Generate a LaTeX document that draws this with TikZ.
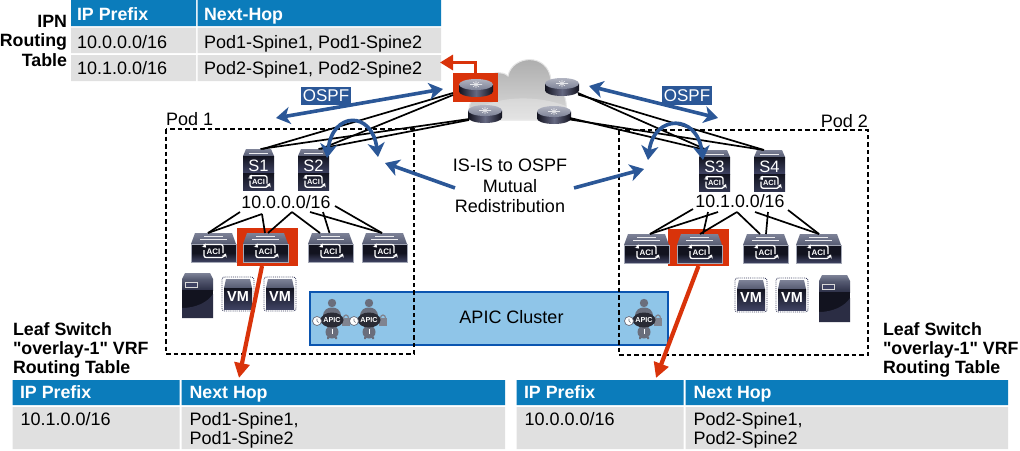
\documentclass[tikz,border=0pt]{standalone}
\usepackage{fontspec}
\setmainfont[Ligatures=TeXOff]{Liberation Sans}
\usetikzlibrary{arrows.meta,calc}
\definecolor{hdr}{HTML}{0B7CBB}
\definecolor{rowc}{HTML}{E0E0E0}
\definecolor{ospf}{HTML}{2B5797}
\definecolor{redc}{HTML}{D9330A}
\definecolor{navy}{HTML}{12131F}
\definecolor{navyb}{HTML}{3F4363}
\definecolor{topa}{HTML}{7D8297}
\definecolor{topb}{HTML}{565B72}
\definecolor{apicg}{HTML}{6A6E7C}
\definecolor{bandf}{HTML}{8FC5E8}
\definecolor{bandd}{HTML}{0B55B0}
\tikzset{
  tx/.style={inner sep=0pt,outer sep=0pt,font=\fontsize{18}{19}\selectfont,text=black},
  txb/.style={tx,font=\fontsize{17.8}{19}\selectfont\bfseries},
  hdt/.style={txb,text=white},
  conn/.style={line width=1.7pt,black},
  pod/.style={line width=1.8pt,dash pattern=on 4.5pt off 3pt,black},
  blue2/.style={line width=3.6pt,ospf,{Stealth[length=14pt,width=17pt,inset=4pt]}-{Stealth[length=14pt,width=17pt,inset=4pt]}},
  blue1/.style={line width=3.6pt,ospf,-{Stealth[length=14pt,width=17pt,inset=4pt]}},
  reda/.style={line width=4.2pt,redc,-{Triangle[length=15pt,width=15pt]}},
  hit/.style={inner sep=0pt,outer sep=0pt,draw=none,fill=none},
  redbox/.style={inner sep=0pt,outer sep=0pt,fill=redc},
}
% ACI mark, centred on the current origin: half width, half height, font size
\newcommand{\acimark}[3]{%
  \draw[white,line width=1.3pt,rounded corners=2pt,-{Stealth[length=3.5pt,width=5pt]}] (#1,2) -- (#1,-#2) -- (-{#1-1},-#2) -- (-{#1+2},{3-#2});
  \draw[white,line width=1.3pt,rounded corners=2pt,-{Stealth[length=3.5pt,width=5pt]}] (-#1,-1) -- (-#1,#2) -- ({#1+1},#2) -- ({#1+3},{#2-4});
  \node[hit,text=white,font=\fontsize{#3}{#3}\selectfont\bfseries] at (0,0.3) {ACI};
}
\newcommand{\leafsw}[3]{%
  \begin{scope}[shift={(#2,#3)}]
    \shade[top color=topa,bottom color=topb] (4,0) -- (41,0) -- (45,11) -- (0,11) -- cycle;
    \shade[top color=navy,bottom color=navyb,middle color=navy] (0,11) rectangle (45,29);
    \draw[white!85!topa,line width=.7pt] (9,6.5) -- (36,6.5) (13,3) -- (32,3);
    \draw[topa!70!white,line width=.5pt] (0,11) rectangle (45,29);
    \node[hit,minimum width=45pt,minimum height=29pt] (#1) at (22.5,14.5) {};
    \begin{scope}[shift={(22.5,18)}]\acimark{9.5}{6.5}{8}\end{scope}
  \end{scope}}
\newcommand{\spinesw}[4]{%
  \begin{scope}[shift={(#2,#3)}]
    \shade[top color=topa,bottom color=topb] (3,0) -- (28,0) -- (31,7) -- (0,7) -- cycle;
    \shade[top color=navy,bottom color=navyb] (0,7) rectangle (31,24);
    \shade[top color=navy,bottom color=navyb!70!navy] (0,24) rectangle (31,41);
    \draw[white!85!topa,line width=.5pt] (6,4) -- (25,4);
    \node[hit,minimum width=31pt,minimum height=41pt] (#1) at (15.5,20.5) {};
    \node[hit,text=white,font=\fontsize{16.5}{17}\selectfont] at (15.5,16.5) {#4};
    \begin{scope}[shift={(15.5,32.5)}]\acimark{8.5}{5.7}{7.5}\end{scope}
  \end{scope}}
\newcommand{\routerr}[3]{%
  \begin{scope}[shift={(#2,#3)}]
    \shade[left color=navy,right color=navy,middle color=navyb!80!white] (-17,-3.5) -- (-17,3.5) arc[x radius=17,y radius=5.5,start angle=180,end angle=0] -- (17,-3.5) -- cycle;
    \shade[top color=topa!60!white,bottom color=topa] (0,-3.5) ellipse[x radius=17,y radius=5.5];
    \draw[white!80!topa,line width=.6pt] (-6,-3.5) -- (6,-3.5) (0,-7) -- (0,0) (-3,-6) -- (3,-1) (3,-6) -- (-3,-1);
    \node[hit,minimum width=34pt,minimum height=18pt] (#1) at (0,0) {};
  \end{scope}}
\newcommand{\vmbox}[3]{%
  \begin{scope}[shift={(#2,#3)}]
    \draw[navyb,line width=.9pt,densely dotted,rounded corners=2.5pt] (0,0) rectangle (32,34);
    \shade[top color=topa,bottom color=topb] (4,2) -- (28,2) -- (30,11) -- (2,11) -- cycle;
    \shade[top color=navy,bottom color=navyb] (2,11) rectangle (30,32.5);
    \node[hit,text=white,font=\fontsize{14.5}{15}\selectfont\bfseries] (#1) at (16,20) {VM};
  \end{scope}}
\newcommand{\serverb}[4]{%
  \begin{scope}[shift={(#2,#3)}]
    \shade[top color=topa,bottom color=topb] (3,0) -- (28,0) -- (31,6) -- (0,6) -- cycle;
    \shade[top color=topb,bottom color=navyb!60!navy] (0,6) rectangle (31,17);
    \fill[navy] (0,17) rectangle (31,{#4});
    \fill[navyb!55!navy] (0,{#4-10}) .. controls (14,{#4-10}) and (26,{#4-16}) .. (31,{#4-24}) -- (31,{#4}) -- (0,{#4}) -- cycle;
    \draw[white!85!black,line width=.8pt,fill=navyb] (3,9.5) rectangle (15,14);
    \node[hit,minimum width=31pt,minimum height=#4 pt] (#1) at (15.5,{#4/2}) {};
  \end{scope}}
\newcommand{\apicnode}[3]{%
  \begin{scope}[shift={(#2,#3)}]
    \fill[apicg] (0,-17) circle[radius=4.2];
    \fill[apicg] (-9,-3) .. controls (-9,-11) and (-4,-12.5) .. (0,-12.5) .. controls (4,-12.5) and (9,-11) .. (9,-3) -- cycle;
    \fill[apicg] (0,12) circle[radius=6.5];
    \fill[apicg] (-5,17) rectangle (-3,19) (3,17) rectangle (5,19) (-2,4) rectangle (2,8);
    \fill[white] (-.5,9) rectangle (.5,14);
    \fill[apicg!85!white] (10,-2) rectangle (18,6);
    \draw[apicg!85!white,line width=1.2pt] (11.5,-2) arc[x radius=2.5,y radius=3,start angle=180,end angle=360];
    \fill[navy!90!white] (0,0) ellipse[x radius=11.5,y radius=7.5];
    \fill[white,draw=apicg,line width=.7pt] (-15,1) circle[radius=4.5];
    \draw[apicg,line width=.7pt] (-15,-1.5) -- (-15,1) -- (-13.5,2.5);
    \node[hit,text=white,font=\fontsize{7.2}{8}\selectfont\bfseries] (#1) at (0,0) {APIC};
  \end{scope}}
\begin{document}
\begin{tikzpicture}[x=1pt,y=-1pt]
\useasboundingbox (0,0) rectangle (1020,450);
\clip (0,0) rectangle (1020,450);
\fill[white] (0,0) rectangle (1020,450);

% ---------- IPN table
\fill[hdr] (71,0) rectangle (196,26) (197.5,0) rectangle (441,26);
\fill[rowc] (71,27.5) rectangle (196,53) (197.5,27.5) rectangle (441,53)
            (71,55) rectangle (196,81) (197.5,55) rectangle (441,81);
\node[hdt,anchor=base west] (ta) at (77,20.5) {IP Prefix};
\node[hdt,anchor=base west] (tb) at (204,20.5) {Next-Hop};
\node[tx,anchor=base west] (tc) at (77,48) {10.0.0.0/16};
\node[tx,anchor=base west] (td) at (204,48) {Pod1-Spine1, Pod1-Spine2};
\node[tx,anchor=base west] (te) at (77,74) {10.1.0.0/16};
\node[tx,anchor=base west] (tf) at (204,74) {Pod2-Spine1, Pod2-Spine2};
\node[txb,anchor=base east] (ipn1) at (67,27) {IPN};
\node[txb,anchor=base east] (ipn2) at (67,46.5) {Routing};
\node[txb,anchor=base east] (ipn3) at (67,66) {Table};

% ---------- APIC band (under the pod frames)
\filldraw[fill=bandf,draw=bandd,line width=2.2pt] (310,292) rectangle (668,345);
\node[tx,anchor=base] (cluster) at (511.5,323) {APIC Cluster};
\apicnode{a1}{332}{320}
\apicnode{a2}{369}{320}
\apicnode{a3}{644}{320}

% ---------- pods
\draw[pod] (166,129) rectangle (414,354);
\draw[pod] (619,130) rectangle (868,355);
\node[tx,anchor=base west] (pod1) at (166,125) {Pod 1};
\node[tx,anchor=base east] (pod2) at (868,127) {Pod 2};

% ---------- cloud
\shade[top color=black!34,bottom color=black!14,draw=black!10,line width=1pt]
  (478,120) .. controls (466,120) and (466,100) .. (478,96)
  .. controls (474,80) and (497,66) .. (508,76)
  .. controls (512,55) and (548,52) .. (551,80)
  .. controls (563,84) and (572,108) .. (562,120) -- cycle;
\fill[white,opacity=.25] (470,112) .. controls (500,94) and (540,96) .. (566,106) .. controls (568,112) and (566,118) .. (562,120) -- (478,120) .. controls (474,120) and (471,116) .. (470,112) -- cycle;

% ---------- spines
\spinesw{s1}{243}{149}{S1}
\spinesw{s2}{298}{149}{S2}
\spinesw{s3}{699}{150}{S3}
\spinesw{s4}{754}{150}{S4}

% ---------- routers' anchors and spine uplinks
\node[redbox,minimum width=45pt,minimum height=29pt] (rb1) at (475.5,87.5) {};
\routerr{r1}{476}{88}
\routerr{r2}{485}{114}
\routerr{r3}{562}{87}
\routerr{r4}{554}{115}
\draw[conn] ([shift={(-6,5)}]r1.west) -- ([xshift=4pt]s1.north);
\draw[conn] ([shift={(-6,7)}]r1.west) -- ([xshift=7pt]s2.north);
\draw[conn] ([shift={(1,5)}]r2.west) -- ([xshift=2pt]s1.north);
\draw[conn] ([shift={(1,6)}]r2.west) -- ([xshift=5pt]s2.north);
\draw[conn] ([shift={(-1,6)}]r3.east) -- ([xshift=-7.5pt]s3.north);
\draw[conn] ([shift={(-1,7.5)}]r3.east) -- ([xshift=-5.5pt]s4.north);
\draw[conn] ([shift={(-1,3)}]r4.east) -- ([xshift=-9pt]s3.north);
\draw[conn] ([shift={(-1,4.5)}]r4.east) -- ([xshift=-6pt]s4.north);

% ---------- leaves
\node[redbox,minimum width=61pt,minimum height=38pt] (rb2) at (267.5,247) {};
\node[redbox,minimum width=61pt,minimum height=37pt] (rb3) at (698.5,247.5) {};
\leafsw{l1}{191}{233}
\leafsw{l2}{243}{233}
\leafsw{l3}{308}{233}
\leafsw{l4}{362}{233}
\leafsw{m1}{624}{234}
\leafsw{m2}{677}{234}
\leafsw{m3}{743}{234}
\leafsw{m4}{796}{234}

% ---------- leaf links
\coordinate (p1c) at (286,212);
\coordinate (p2c) at (740,212);
\draw[conn] ([shift={(-46,0)}]p1c) -- ([xshift=-5.5pt]l1.north);
\draw[conn] ([shift={(-24,2)}]p1c) -- ([xshift=-5.5pt]l1.north);
\draw[conn] ([shift={(-24,2)}]p1c) -- ([xshift=-.5pt]l2.north);
\draw[conn] ([shift={(6,0)}]p1c) -- ([xshift=2.5pt]l2.north);
\draw[conn] ([shift={(6,0)}]p1c) -- ([xshift=-10.5pt]l3.north);
\draw[conn] ([shift={(37,0)}]p1c) -- ([xshift=-1pt]l3.north);
\draw[conn] ([shift={(24,0)}]p1c) -- ([xshift=-2.5pt]l4.north);
\draw[conn] ([shift={(49,-6)}]p1c) -- ([xshift=-2.5pt]l4.north);
\draw[conn] ([shift={(-47,-3)}]p2c) -- ([xshift=3.5pt]m1.north);
\draw[conn] ([shift={(-22,0)}]p2c) -- ([xshift=3.5pt]m1.north);
\draw[conn] ([shift={(-32,0)}]p2c) -- ([xshift=3.5pt]m2.north);
\draw[conn] ([shift={(-3,0)}]p2c) -- ([xshift=.5pt]m2.north);
\draw[conn] ([shift={(-3,0)}]p2c) -- ([xshift=-5.5pt]m3.north);
\draw[conn] ([shift={(28,0)}]p2c) -- ([xshift=.5pt]m3.north);
\draw[conn] ([shift={(15,0)}]p2c) -- ([xshift=.5pt]m4.north);
\draw[conn] ([shift={(48,-2)}]p2c) -- ([xshift=.5pt]m4.north);
\node[tx,anchor=base,font=\fontsize{17.8}{19}\selectfont] (p1) at (286,208) {10.0.0.0/16};
\node[tx,anchor=base,font=\fontsize{17.8}{19}\selectfont] (p2) at (740,207) {10.1.0.0/16};

% ---------- hosts
\serverb{h1}{182}{273}{45}
\vmbox{v1}{222}{277}
\vmbox{v2}{264}{277}
\vmbox{v3}{735}{278}
\vmbox{v4}{776}{278}
\serverb{h2}{819}{275}{47}

% ---------- red arrows
\coordinate (ipnt) at (440,62.5);
\draw[redc,-{Triangle[length=13pt,width=15pt]},line width=3pt] (rb1.north) -- (rb1.north |- ipnt) -- (ipnt);
\coordinate (lta) at (239,378);
\coordinate (ltb) at (656,378);
\draw[reda] ([xshift=-5.5pt]rb2.south) -- (lta);
\draw[reda] (rb3.south) -- (ltb);

% ---------- blue arrows
\node[hit,fill=ospf,text=white,font=\fontsize{17}{19}\selectfont,minimum width=50pt,minimum height=18.5pt] (o1) at (326,96) {OSPF};
\node[hit,fill=ospf,text=white,font=\fontsize{17}{19}\selectfont,minimum width=50pt,minimum height=18.5pt] (o2) at (687,95.5) {OSPF};
\coordinate (o1a) at (276,118);
\coordinate (o1b) at (443,89);
\coordinate (o2a) at (589,86);
\coordinate (o2b) at (718,118);
\draw[blue2] (o1a) -- (o1b);
\draw[blue2] (o2a) -- (o2b);
\coordinate (arcla) at (327,158);
\coordinate (arclb) at (378,157);
\coordinate (arcra) at (648,160);
\coordinate (arcrb) at (703,160);
\draw[blue2] (arcla) .. controls (333,111) and (372,111) .. (arclb);
\draw[blue2] (arcra) .. controls (654,114) and (697,114) .. (arcrb);
\node[tx,anchor=base] (isa) at (510,171) {IS-IS to OSPF};
\node[tx,anchor=base] (isb) at (510,192) {Mutual};
\node[tx,anchor=base] (isc) at (510,212) {Redistribution};
\coordinate (isl) at (385,163);
\coordinate (isr) at (644,169);
\draw[blue1] ([shift={(0,-11)}]isc.north west) -- (isl);
\draw[blue1] ([shift={(9,-11)}]isc.north east) -- (isr);

% ---------- leaf tables
\node[txb,anchor=base west] (lt1) at (13,335) {Leaf Switch};
\node[txb,anchor=base west] (lt2) at (13,354) {"overlay-1" VRF};
\node[txb,anchor=base west] (lt3) at (13,373) {Routing Table};
\node[txb,anchor=base west] (rt1) at (883,335) {Leaf Switch};
\node[txb,anchor=base west] (rt2) at (883,354) {"overlay-1" VRF};
\node[txb,anchor=base west] (rt3) at (883,373) {Routing Table};

\fill[hdr] (12.5,380) rectangle (179.5,405) (181.5,380) rectangle (505,405);
\fill[rowc] (12.5,407) rectangle (179.5,449) (181.5,407) rectangle (505,449);
\node[hdt,anchor=base west] (a1h) at (20,398) {IP Prefix};
\node[hdt,anchor=base west] (a2h) at (189.5,398) {Next Hop};
\node[tx,anchor=base west] (a1r) at (20.5,425) {10.1.0.0/16};
\node[tx,anchor=base west] (a2r) at (189.5,425) {Pod1-Spine1,};
\node[tx,anchor=base west] (a3r) at (189.5,444) {Pod1-Spine2};

\fill[hdr] (516.5,380) rectangle (683.5,405) (685.5,380) rectangle (1008,405);
\fill[rowc] (516.5,407) rectangle (683.5,449) (685.5,407) rectangle (1008,449);
\node[hdt,anchor=base west] (b1h) at (524,398) {IP Prefix};
\node[hdt,anchor=base west] (b2h) at (693.5,398) {Next Hop};
\node[tx,anchor=base west] (b1r) at (524.5,425) {10.0.0.0/16};
\node[tx,anchor=base west] (b2r) at (693.5,425) {Pod2-Spine1,};
\node[tx,anchor=base west] (b3r) at (693.5,444) {Pod2-Spine2};
\end{tikzpicture}
\end{document}
